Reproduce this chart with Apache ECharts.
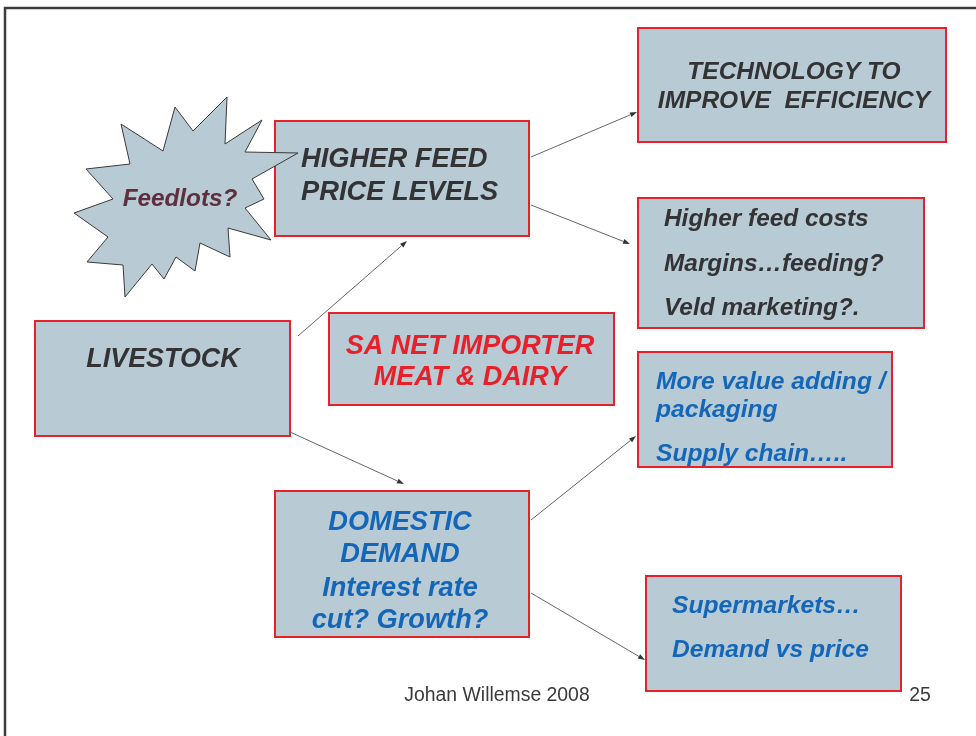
<!DOCTYPE html>
<html><head><meta charset="utf-8">
<script src="https://cdn.jsdelivr.net/npm/echarts@6/dist/echarts.min.js"></script>
<style>html,body{margin:0;padding:0;background:#fff}#c{width:976px;height:736px}</style>
</head><body><div id="c"></div>
<script>
// ---- content (text) ----
const boxTexts = [
  ['TECHNOLOGY TO', 'IMPROVE  EFFICIENCY'],
  ['HIGHER FEED', 'PRICE LEVELS'],
  ['Higher feed costs', 'Margins\u2026feeding?', 'Veld marketing?.'],
  ['LIVESTOCK'],
  ['SA NET IMPORTER', 'MEAT & DAIRY'],
  ['More value adding /', 'packaging', 'Supply chain\u2026..'],
  ['DOMESTIC', 'DEMAND', 'Interest rate', 'cut? Growth?'],
  ['Supermarkets\u2026', 'Demand vs price']
];
const starText = 'Feedlots?';
const footerText = 'Johan Willemse 2008';
const pageNumber = '25';
// arrows: [fromBox, toBox]
const links = [[1, 0], [1, 2], [3, 1], [3, 6], [6, 5], [6, 7]];

// ---- layout & style (separate from content) ----
const DARK = '#333336', RED = '#e8202a', BLUE = '#1466b8', FILL = '#b8cad4';
const DY = 1.5;
const boxRects = [
  [638, 28, 308, 114], [275, 121, 254, 115], [638, 198, 286, 130], [35, 321, 255, 115],
  [329, 313, 285, 92], [638, 352, 254, 115], [275, 491, 254, 146], [646, 576, 255, 115]
];
const boxStyle = [
  {color: DARK, size: 24.5, align: 'center', x: 794, ys: [71, 100]},
  {color: DARK, size: 27.3, align: 'left', x: 301, ys: [158, 191]},
  {color: DARK, size: 24.4, align: 'left', x: 664, ys: [218, 263, 307]},
  {color: DARK, size: 26.9, align: 'center', x: 163, ys: [358]},
  {color: RED, size: 27, align: 'center', x: 470, ys: [345, 376]},
  {color: BLUE, size: 24.6, align: 'left', x: 656, ys: [381, 409, 453]},
  {color: BLUE, size: 27.2, align: 'center', x: 400, ys: [521, 553, 587, 619]},
  {color: BLUE, size: 24.6, align: 'left', x: 672, ys: [605, 649]}
];
const linkPts = [
  [[531, 157], [637, 112]], [[531, 205], [630, 244]], [[298, 336], [407, 241]],
  [[290, 432], [404, 484]], [[531, 520], [636, 436]], [[531, 593], [645, 660]]
];
const starPts = [[121,124],[163,151],[175,107],[193,131],[227,97],[225,144],[262,120],[245,152],
  [298,153],[252,179],[264,199],[245,208],[271,240],[228,228],[230,257],[200,243],[195,271],
  [176,257],[164,279],[152,264],[125,297],[123,265],[87,262],[108,237],[74,213],[113,199],
  [86,169],[130,164]];

const FONT = '"Liberation Sans", Arial, Helvetica, sans-serif';
const g = [];
// page border
g.push({type: 'polyline', shape: {points: [[5, 740], [5, 8], [980, 8]]}, style: {stroke: '#3c3c3c', lineWidth: 2.5, fill: null}});

function addBox(i) {
  const r = boxRects[i], s = boxStyle[i];
  g.push({type: 'rect', shape: {x: r[0], y: r[1], width: r[2], height: r[3]},
    style: {fill: FILL, stroke: RED, lineWidth: 2}});
  boxTexts[i].forEach((t, k) => {
    g.push({type: 'text', x: s.x, y: s.ys[k] + DY, style: {text: t, fill: s.color,
      font: 'italic bold ' + s.size + 'px ' + FONT, textAlign: s.align, textVerticalAlign: 'middle'}});
  });
}
boxTexts.forEach((_, i) => addBox(i));

// star (drawn over the feed box)
g.push({type: 'polygon', shape: {points: starPts}, style: {fill: FILL, stroke: '#3a3a3a', lineWidth: 1}});
g.push({type: 'text', x: 180, y: 198 + DY, style: {text: starText, fill: '#5e2f3c',
  font: 'italic bold 24.3px ' + FONT, textAlign: 'center', textVerticalAlign: 'middle'}});

// arrows
links.forEach((l, i) => {
  const [a, b] = linkPts[i];
  const dx = b[0] - a[0], dy = b[1] - a[1], len = Math.hypot(dx, dy);
  const ux = dx / len, uy = dy / len, hl = 7, hw = 2.5;
  const bx = b[0] - ux * hl, by = b[1] - uy * hl;
  g.push({type: 'line', shape: {x1: a[0], y1: a[1], x2: bx, y2: by}, style: {stroke: '#666', lineWidth: 1}});
  g.push({type: 'polygon', shape: {points: [[b[0], b[1]], [bx - uy * hw, by + ux * hw], [bx + uy * hw, by - ux * hw]]},
    style: {fill: '#333', stroke: null}});
});

// footer
g.push({type: 'text', x: 497, y: 694 + DY, style: {text: footerText, fill: '#3a3a3a', font: '19.4px ' + FONT, textAlign: 'center', textVerticalAlign: 'middle'}});
g.push({type: 'text', x: 920, y: 694 + DY, style: {text: pageNumber, fill: '#3a3a3a', font: '19.4px ' + FONT, textAlign: 'center', textVerticalAlign: 'middle'}});

const chart = echarts.init(document.getElementById('c'), null, {renderer: 'canvas'});
chart.setOption({animation: false, backgroundColor: '#fff', graphic: g});
</script>
</body></html>
